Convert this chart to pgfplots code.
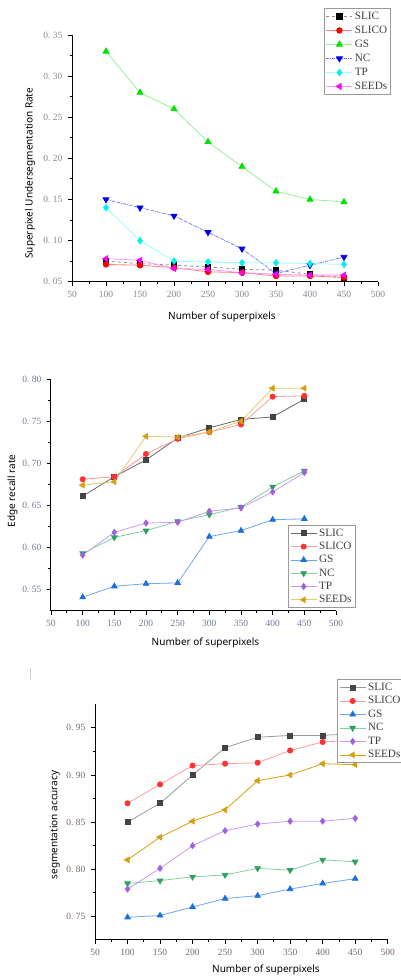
\documentclass[border=0pt]{standalone}
\usepackage{pgfplots}
\pgfplotsset{compat=1.18}
\usepackage{fontspec}
\setmainfont{Liberation Serif}
\newfontfamily\labfont{Noto Sans}

% plot 1 colours
\definecolor{aSLm}{HTML}{000000}\definecolor{aSLl}{HTML}{8C8C8C}
\definecolor{aSOm}{HTML}{FF0000}\definecolor{aSOl}{HTML}{FF8080}
\definecolor{aGSm}{HTML}{00E000}\definecolor{aGSl}{HTML}{99EE99}
\definecolor{aNCm}{HTML}{0000EE}\definecolor{aNCl}{HTML}{7777FF}
\definecolor{aTPm}{HTML}{00F0F0}\definecolor{aTPl}{HTML}{99FFFF}
\definecolor{aSEm}{HTML}{FF00FF}\definecolor{aSEl}{HTML}{FF99FF}
% plots 2,3 colours
\definecolor{bSLm}{HTML}{444444}\definecolor{bSLl}{HTML}{999999}
\definecolor{bSOm}{HTML}{FF3333}\definecolor{bSOl}{HTML}{FF9999}
\definecolor{bGSm}{HTML}{1A6FE0}\definecolor{bGSl}{HTML}{70A6EC}
\definecolor{bNCm}{HTML}{2CA060}\definecolor{bNCl}{HTML}{80D0A0}
\definecolor{bTPm}{HTML}{A060E0}\definecolor{bTPl}{HTML}{CC99EE}
\definecolor{bSEm}{HTML}{D4A010}\definecolor{bSEl}{HTML}{E6C870}
\definecolor{tickA}{HTML}{858A92}
\definecolor{tickB}{HTML}{6E7C98}
\definecolor{tickC}{HTML}{7A6A62}
\definecolor{legtxt}{HTML}{404040}

\pgfplotsset{
 mystyle/.style={
  scale only axis,
  axis lines=left,
  axis line style={-, line width=1pt},
  tick align=outside,
  major tick length=4pt, minor tick length=2.5pt,
  tick style={black, line width=0.8pt},
  xmin=50,xmax=500,
  xtick={50,100,...,500},
  xticklabels={50,100,150,200,250,300,350,400,450,500},
  minor x tick num=1, minor y tick num=1,
  ticklabel style={font=\fontsize{9.5}{10}\selectfont},
  xticklabel style={yshift=-2pt},
  yticklabel style={xshift=-2pt},
  label style={font=\labfont\fontsize{10}{12}\selectfont},
  legend cell align=left,
  legend image code/.code={\draw[mark repeat=2,mark phase=2] plot coordinates {(0pt,0pt) (13pt,0pt) (26pt,0pt)};},
  legend style={draw=gray!80, line width=0.8pt, fill=white, text=legtxt, font=\fontsize{11.2}{12}\selectfont, inner sep=1.5pt, row sep=0.6pt, anchor=north west},
  clip=false,
  every axis plot/.append style={line width=0.8pt},
 }
}

\begin{document}
\begin{tikzpicture}[x=1pt,y=1pt]
\path[use as bounding box] (0,0) rectangle (400,976);
\draw[gray!35, line width=1pt] (30,308) -- (30,296);

% ---------------- Plot 1 ----------------
\begin{axis}[mystyle,
  at={(72pt,694.3pt)}, anchor=south west,
  width=306pt, height=246.7pt,
  ymin=0.05, ymax=0.35,
  ytick={0.05,0.10,0.15,0.20,0.25,0.30,0.35},
  yticklabels={0.~05,0.~10,0.~15,0.~20,0.~25,0.~30,0.~35},
  ticklabel style={text=tickA},
  xlabel={Number of superpixels}, ylabel={Superpixel Undersegmentation Rate},
  xlabel style={at={(axis description cs:0.49,-0.142)}, anchor=center},
  ylabel style={at={(axis description cs:-0.137,0.44)}, anchor=center},
  legend style={at={(axis description cs:0.824,1.109)}, row sep=1.1pt},
]
\addplot[color=aSLl, dashed, mark=square*, mark size=2.6pt, mark options={solid, fill=aSLm, draw=aSLm}] coordinates {(100,0.075)(150,0.072)(200,0.070)(250,0.068)(300,0.065)(350,0.064)(400,0.059)(450,0.055)};
\addlegendentry{SLIC}
\addplot[color=aSOl, mark=*, mark size=2.8pt, mark options={fill=aSOm, draw=aSOm}] coordinates {(100,0.071)(150,0.070)(200,0.067)(250,0.062)(300,0.061)(350,0.057)(400,0.057)(450,0.055)};
\addlegendentry{SLICO}
\addplot[color=aGSl, mark=triangle*, mark size=3.4pt, mark options={fill=aGSm, draw=aGSm}] coordinates {(100,0.330)(150,0.280)(200,0.260)(250,0.220)(300,0.190)(350,0.160)(400,0.150)(450,0.147)};
\addlegendentry{GS}
\addplot[color=aNCl, densely dashdotted, mark=triangle*, mark size=3.4pt, mark options={solid, rotate=180, fill=aNCm, draw=aNCm}] coordinates {(100,0.150)(150,0.140)(200,0.130)(250,0.110)(300,0.090)(350,0.060)(400,0.070)(450,0.080)};
\addlegendentry{NC}
\addplot[color=aTPl, mark=diamond*, mark size=3.2pt, mark options={fill=aTPm, draw=aTPm}] coordinates {(100,0.140)(150,0.100)(200,0.075)(250,0.074)(300,0.073)(350,0.073)(400,0.072)(450,0.071)};
\addlegendentry{TP}
\addplot[color=aSEl, mark=triangle*, mark size=3.4pt, mark options={rotate=90, fill=aSEm, draw=aSEm}] coordinates {(100,0.078)(150,0.076)(200,0.066)(250,0.065)(300,0.061)(350,0.059)(400,0.058)(450,0.058)};
\addlegendentry{SEEDs}
\end{axis}

% ---------------- Plot 2 ----------------
\begin{axis}[mystyle,
  at={(51pt,365.3pt)}, anchor=south west,
  width=285pt, height=231.7pt,
  ymin=0.525, ymax=0.80,
  ytick={0.55,0.60,0.65,0.70,0.75,0.80},
  yticklabels={0.~55,0.~60,0.~65,0.~70,0.~75,0.~80},
  ticklabel style={text=tickB},
  xlabel={Number of superpixels}, ylabel={Edge recall rate},
  xlabel style={at={(axis description cs:0.542,-0.139)}, anchor=center},
  ylabel style={at={(axis description cs:-0.135,0.517)}, anchor=center},
  legend style={at={(axis description cs:0.833,0.370)}, row sep=0.4pt},
]
\addplot[color=bSLm!80, mark=square*, mark size=2.5pt, mark options={fill=bSLm, draw=bSLm}] coordinates {(100,0.661)(150,0.684)(200,0.704)(250,0.730)(300,0.742)(350,0.752)(400,0.755)(450,0.776)};
\addlegendentry{SLIC}
\addplot[color=bSOl, mark=*, mark size=2.6pt, mark options={fill=bSOm, draw=bSOm}] coordinates {(100,0.681)(150,0.684)(200,0.711)(250,0.729)(300,0.737)(350,0.746)(400,0.779)(450,0.780)};
\addlegendentry{SLICO}
\addplot[color=bGSl, mark=triangle*, mark size=3.2pt, mark options={fill=bGSm, draw=bGSm}] coordinates {(100,0.541)(150,0.554)(200,0.557)(250,0.558)(300,0.613)(350,0.620)(400,0.633)(450,0.634)};
\addlegendentry{GS}
\addplot[color=bNCl, mark=triangle*, mark size=3.2pt, mark options={rotate=180, fill=bNCm, draw=bNCm}] coordinates {(100,0.593)(150,0.612)(200,0.620)(250,0.631)(300,0.639)(350,0.648)(400,0.672)(450,0.691)};
\addlegendentry{NC}
\addplot[color=bTPl, mark=diamond*, mark size=3.0pt, mark options={fill=bTPm, draw=bTPm}] coordinates {(100,0.591)(150,0.618)(200,0.629)(250,0.630)(300,0.643)(350,0.647)(400,0.666)(450,0.689)};
\addlegendentry{TP}
\addplot[color=bSEl, mark=triangle*, mark size=3.2pt, mark options={rotate=90, fill=bSEm, draw=bSEm}] coordinates {(100,0.674)(150,0.678)(200,0.732)(250,0.731)(300,0.737)(350,0.750)(400,0.789)(450,0.789)};
\addlegendentry{SEEDs}
\end{axis}

% ---------------- Plot 3 ----------------
\begin{axis}[mystyle,
  at={(95pt,36pt)}, anchor=south west,
  width=292.7pt, height=235.7pt,
  ymin=0.725, ymax=0.975,
  ytick={0.75,0.80,0.85,0.90,0.95},
  yticklabels={0.~75,0.~80,0.~85,0.~90,0.~95},
  ticklabel style={text=tickC},
  xlabel={Number of superpixels}, ylabel={segmentation accuracy},
  xlabel style={at={(axis description cs:0.584,-0.127)}, anchor=center},
  ylabel style={at={(axis description cs:-0.137,0.488)}, anchor=center},
  legend style={at={(axis description cs:0.828,1.107)}, row sep=0.6pt},
]
\addplot[color=bSLl, mark=square*, mark size=2.5pt, mark options={fill=bSLm, draw=bSLm}] coordinates {(100,0.850)(150,0.870)(200,0.900)(250,0.929)(300,0.940)(350,0.942)(400,0.942)(450,0.944)};
\addlegendentry{SLIC}
\addplot[color=bSOl, mark=*, mark size=2.6pt, mark options={fill=bSOm, draw=bSOm}] coordinates {(100,0.870)(150,0.890)(200,0.910)(250,0.912)(300,0.913)(350,0.926)(400,0.935)(450,0.937)};
\addlegendentry{SLICO}
\addplot[color=bGSl, mark=triangle*, mark size=3.2pt, mark options={fill=bGSm, draw=bGSm}] coordinates {(100,0.749)(150,0.751)(200,0.760)(250,0.769)(300,0.772)(350,0.779)(400,0.785)(450,0.790)};
\addlegendentry{GS}
\addplot[color=bNCl, mark=triangle*, mark size=3.2pt, mark options={rotate=180, fill=bNCm, draw=bNCm}] coordinates {(100,0.785)(150,0.788)(200,0.792)(250,0.794)(300,0.801)(350,0.799)(400,0.810)(450,0.808)};
\addlegendentry{NC}
\addplot[color=bTPl, mark=diamond*, mark size=3.0pt, mark options={fill=bTPm, draw=bTPm}] coordinates {(100,0.779)(150,0.801)(200,0.825)(250,0.841)(300,0.848)(350,0.851)(400,0.851)(450,0.854)};
\addlegendentry{TP}
\addplot[color=bSEm, mark=triangle*, mark size=3.2pt, mark options={rotate=90, fill=bSEm, draw=bSEm}] coordinates {(100,0.810)(150,0.834)(200,0.851)(250,0.863)(300,0.894)(350,0.900)(400,0.912)(450,0.911)};
\addlegendentry{SEEDs}
\end{axis}
\end{tikzpicture}
\end{document}
